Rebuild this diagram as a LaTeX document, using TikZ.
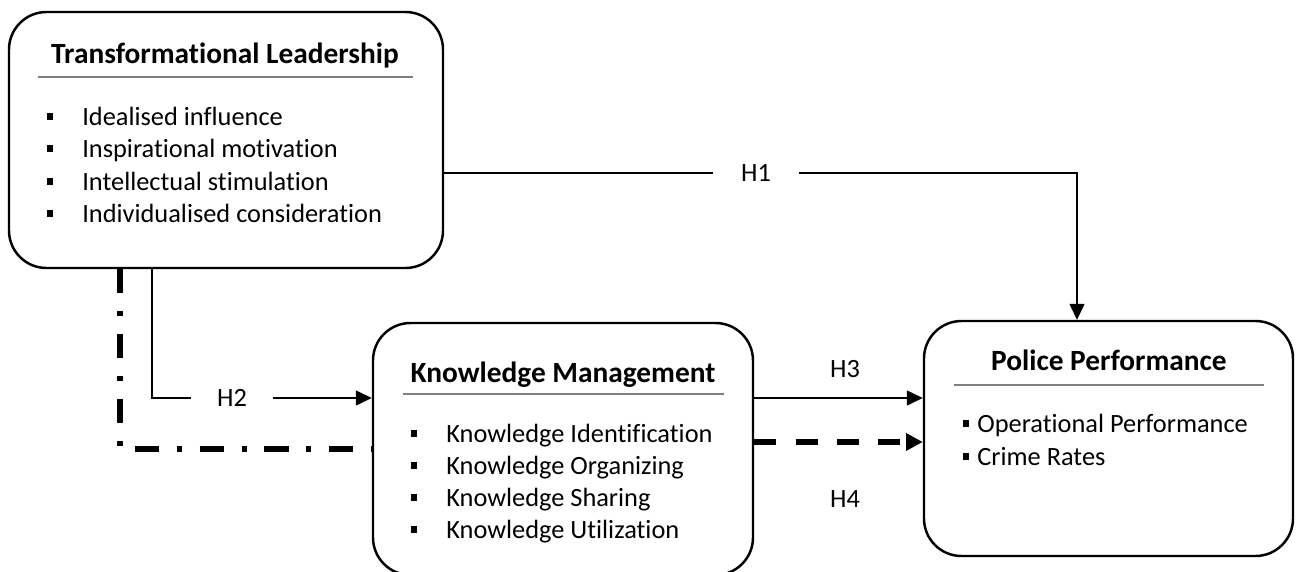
\documentclass[tikz,border=0pt]{standalone}
\usepackage{fontspec}
\setmainfont{Carlito}[Ligatures=NoCommon]
\usepackage{xcolor}
\usepackage{tikz}
\usetikzlibrary{arrows.meta,calc,positioning}
\definecolor{rulegray}{HTML}{808080}
\newcommand{\sqbullet}{\rule[0.2em]{0.26em}{0.26em}}

\begin{document}
\begin{tikzpicture}[
    x=0.2mm, y=-0.2mm,
    box/.style={draw, line width=1.4pt, rounded corners=7.5mm, inner sep=0pt},
    boxtitle/.style={font=\fontsize{16.7}{19}\selectfont\bfseries, anchor=base, inner sep=0pt},
    item/.style={font=\fontsize{15}{18}\selectfont, anchor=base west, inner sep=0pt},
    hlabel/.style={font=\fontsize{15}{18}\selectfont, inner sep=0pt},
    conn/.style={line width=0.6pt},
    headrule/.style={draw=rulegray, line width=0.8pt},
    >={Triangle[length=9pt,width=8.5pt]}
]
\useasboundingbox (0,0) rectangle (1300,572);

% the three constructs
\node[box, minimum width=86.8mm, minimum height=51.2mm] (tl) at (226,140) {};
\node[box, minimum width=76mm, minimum height=50.4mm] (km) at (563,449) {};
\node[box, minimum width=73.8mm, minimum height=47mm] (pp) at (1108.5,438.5) {};

\node[boxtitle] (tltitle) at (225,63) {Transformational Leadership};
\draw[headrule] (38,77) -- (413,77);
\foreach \t [count=\i] in {Idealised influence, Inspirational motivation,
    Intellectual stimulation, Individualised consideration}
  \node[item] (tl\i) at (82,{125+32.5*(\i-1)}) {\llap{\sqbullet\hspace{16.5pt}}\t};

\node[boxtitle] (kmtitle) at (563,382) {Knowledge Management};
\draw[headrule] (403,394) -- (724,394);
\foreach \t [count=\i] in {Knowledge Identification, Knowledge Organizing,
    Knowledge Sharing, Knowledge Utilization}
  \node[item] (km\i) at (446,{442+32*(\i-1)}) {\llap{\sqbullet\hspace{16.5pt}}\t};

\node[boxtitle] (pptitle) at (1109,370) {Police Performance};
\draw[headrule] (954,385) -- (1264,385);
\node[item] (pp1) at (977,432) {\llap{\sqbullet\hspace{4.5pt}}Operational Performance};
\node[item] (pp2) at (977,465) {\llap{\sqbullet\hspace{4.5pt}}Crime Rates};

% hypotheses
\node[hlabel, inner xsep=16pt] (h1) at (756,173) {H1};
\node[hlabel, inner xsep=14.5pt] (h2) at (232,398) {H2};
\node[hlabel] (h3) at (845,369) {H3};
\node[hlabel] (h4) at (845,499) {H4};

\coordinate (h1end) at ([xshift=-6.3mm]pp.north);
\coordinate (h3s) at ([yshift=10.2mm]km.east);
\coordinate (h4s) at ([yshift=1.4mm]km.east);

\draw[conn] (tl.east |- h1) -- (h1.west);
\draw[conn, ->] (h1.east) -| (h1end);
\draw[conn] ([xshift=-14.8mm]tl.south) |- (h2.west);
\draw[conn, ->] (h2.east) -- (km.west |- h2);
\draw[line width=3.4pt, dash pattern=on 13.7pt off 10.2pt on 2.8pt off 10.2pt]
    ([xshift=-21.2mm]tl.south) |- (km.west);
\draw[conn, ->] (h3s) -- (h3s -| pp.west);
\draw[line width=3.4pt, dash pattern=on 12.5pt off 11pt,
    -{Triangle[length=9.5pt,width=9.5pt]}] (h4s) -- (h4s -| pp.west);
\end{tikzpicture}
\end{document}
